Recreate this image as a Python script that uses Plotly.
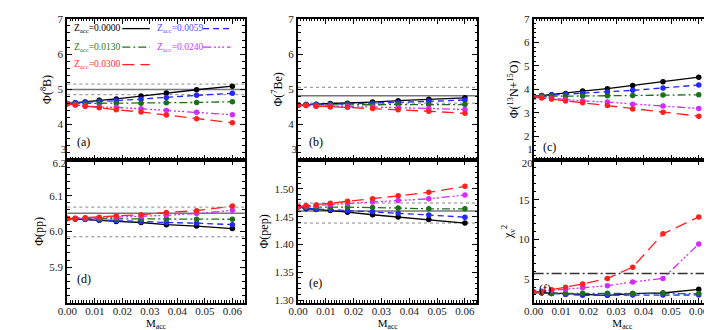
import plotly.graph_objects as go
from plotly.subplots import make_subplots

# accreted mass (x axis, same for every panel)
m_acc = [0.0, 0.0029, 0.0065, 0.0116, 0.0178, 0.0268, 0.036, 0.047, 0.06]

z_labels = ['0.0000', '0.0059', '0.0130', '0.0240', '0.0300']

# panel (a) phi(8B)
b8 = {
    '0.0000': [4.60, 4.62, 4.64, 4.69, 4.73, 4.81, 4.90, 4.99, 5.09],
    '0.0059': [4.60, 4.62, 4.64, 4.66, 4.68, 4.72, 4.77, 4.83, 4.89],
    '0.0130': [4.60, 4.60, 4.60, 4.61, 4.61, 4.61, 4.62, 4.63, 4.65],
    '0.0240': [4.59, 4.56, 4.53, 4.50, 4.49, 4.45, 4.40, 4.35, 4.28],
    '0.0300': [4.59, 4.56, 4.52, 4.48, 4.42, 4.36, 4.27, 4.17, 4.05],
}
# panel (b) phi(7Be)
be7 = {
    '0.0000': [4.55, 4.57, 4.58, 4.60, 4.61, 4.64, 4.68, 4.72, 4.76],
    '0.0059': [4.56, 4.57, 4.57, 4.58, 4.59, 4.61, 4.62, 4.66, 4.70],
    '0.0130': [4.56, 4.56, 4.56, 4.56, 4.56, 4.56, 4.57, 4.57, 4.57],
    '0.0240': [4.55, 4.54, 4.53, 4.52, 4.51, 4.50, 4.48, 4.46, 4.43],
    '0.0300': [4.55, 4.54, 4.52, 4.50, 4.49, 4.46, 4.42, 4.38, 4.32],
}
# panel (c) phi(13N+15O)
cno = {
    '0.0000': [3.70, 3.74, 3.77, 3.83, 3.93, 4.03, 4.17, 4.33, 4.52],
    '0.0059': [3.70, 3.73, 3.76, 3.79, 3.84, 3.89, 3.96, 4.06, 4.19],
    '0.0130': [3.70, 3.70, 3.71, 3.71, 3.72, 3.73, 3.74, 3.76, 3.77],
    '0.0240': [3.69, 3.66, 3.60, 3.56, 3.51, 3.46, 3.37, 3.29, 3.19],
    '0.0300': [3.67, 3.63, 3.59, 3.51, 3.43, 3.31, 3.17, 3.03, 2.86],
}
# panel (d) phi(pp)
pp = {
    '0.0000': [6.036, 6.035, 6.034, 6.031, 6.028, 6.025, 6.019, 6.015, 6.008],
    '0.0059': [6.036, 6.035, 6.034, 6.032, 6.030, 6.027, 6.025, 6.023, 6.019],
    '0.0130': [6.036, 6.036, 6.035, 6.035, 6.034, 6.034, 6.034, 6.034, 6.034],
    '0.0240': [6.036, 6.036, 6.037, 6.038, 6.040, 6.042, 6.045, 6.050, 6.059],
    '0.0300': [6.036, 6.037, 6.038, 6.040, 6.043, 6.047, 6.053, 6.058, 6.071],
}
# panel (e) phi(pep)
pep = {
    '0.0000': [1.468, 1.464, 1.463, 1.461, 1.458, 1.4534, 1.4494, 1.4448, 1.4385],
    '0.0059': [1.468, 1.465, 1.4635, 1.463, 1.461, 1.459, 1.456, 1.453, 1.449],
    '0.0130': [1.468, 1.4675, 1.4675, 1.467, 1.467, 1.4665, 1.4655, 1.464, 1.464],
    '0.0240': [1.468, 1.469, 1.470, 1.472, 1.4736, 1.4764, 1.479, 1.482, 1.489],
    '0.0300': [1.468, 1.4695, 1.471, 1.474, 1.4776, 1.482, 1.4874, 1.4937, 1.5046],
}
# panel (f) reduced chi^2
chi2 = {
    '0.0000': [3.33, 3.29, 3.17, 3.08, 3.04, 2.96, 3.17, 3.25, 3.71],
    '0.0059': [3.33, 3.29, 3.17, 3.08, 2.96, 2.96, 3.00, 3.00, 3.00],
    '0.0130': [3.33, 3.29, 3.21, 3.21, 3.21, 3.21, 3.17, 3.21, 3.17],
    '0.0240': [3.38, 3.46, 3.58, 3.71, 3.92, 4.17, 4.63, 5.08, 9.42],
    '0.0300': [3.38, 3.38, 3.67, 3.96, 4.38, 5.08, 6.50, 10.70, 12.83],
}

# y tick values per panel (the edge labels at the panel joins are kept apart)
ticks_a = [4, 5, 6, 7]
ticks_c = [2, 3, 4, 5, 6, 7]
ticks_d = [5.9, 6.0, 6.1]
ticks_e = [1.30, 1.35, 1.40, 1.45, 1.50]
ticks_f = [5, 10, 15]
# labels sitting on the join between the two rows: (panel, value, format)
join_ticks = [(1, 3, 'd'), (2, 3, 'd'), (3, 1, 'd'), (4, 6.2, '.1f'), (6, 20, 'd')]

# measured values: (central, upper, lower)
ref_a = [5.00, 5.15, 4.85]
ref_b = [4.82, 5.06, 4.61]
ref_d = [6.051, 6.068, 5.985]
ref_e = [1.46, 1.4745, 1.4385]
chi2_limit = 5.7

colors = {'0.0000': 'black', '0.0059': '#2626ff', '0.0130': '#1c701c',
          '0.0240': '#d22cff', '0.0300': '#ff2020'}
text_colors = {'0.0000': 'black', '0.0059': '#5a4cff', '0.0130': '#2a7a2a',
               '0.0240': '#c83cff', '0.0300': '#ff3030'}
dashes = {'0.0000': 'solid', '0.0059': '6px,4px', '0.0130': '8px,3px,2px,3px',
          '0.0240': '8px,3px,2px,2px,2px,2px,2px,3px', '0.0300': '12px,6px'}

FONT = 'Liberation Serif'


def labels(vals, fmt):
    return [format(v, fmt) for v in vals]


fig = make_subplots(rows=2, cols=3)

# row, col, data, y range, y title, tick values, tick format, minor step, tag, tag position
panels = [
    (1, 1, b8, [2.999, 7.001], 'Φ(<sup>8</sup>B)', ticks_a, 'd', 0.2, '(a)', (0.044, 0.124)),
    (1, 2, be7, [2.999, 7.001], 'Φ(<sup>7</sup>Be)', ticks_a, 'd', 0.2, '(b)', (0.05, 0.124)),
    (1, 3, cno, [0.999, 7.001], 'Φ(<sup>13</sup>N+<sup>15</sup>O)', ticks_c, 'd', 0.2, '(c)', (0.044, 0.09)),
    (2, 1, pp, [5.8, 6.2001], 'Φ(pp)', ticks_d, '.1f', 0.02, '(d)', (0.044, 0.17)),
    (2, 2, pep, [1.295, 1.552], 'Φ(pep)', ticks_e, '.2f', 0.01, '(e)', (0.05, 0.136)),
    (2, 3, chi2, [2, 20.01], 'χ<sub>ν</sub><sup>2</sup>', ticks_f, 'd', 1, '(f)', (0.02, 0.10)),
]

xdoms = [[50 / 712, 230 / 712], [284 / 712, 466 / 712], [523 / 712, 703 / 712]]
ydoms = [[1 - 150 / 330, 1 - 5 / 330], [1 - 297 / 330, 1 - 150 / 330]]
tickfont = dict(family=FONT, size=11, color='#222')

for i, (r, c, data, yr, ytitle, tv, tf, minor_dt, tag, tpos) in enumerate(panels):
    for z in z_labels:
        fig.add_trace(go.Scatter(
            x=m_acc, y=data[z], mode='lines+markers',
            line=dict(color=colors[z], width=1.3, dash=dashes[z]),
            marker=dict(color=colors[z], size=5.5),
            showlegend=False), row=r, col=c)
    n = i + 1
    xa = 'x' if n == 1 else f'x{n}'
    ya = 'y' if n == 1 else f'y{n}'
    fig.update_xaxes(
        domain=xdoms[c - 1], range=[0, 0.0645], dtick=0.01, tickformat='.2f',
        showticklabels=(r == 2), ticks='inside', ticklen=5, tickwidth=1,
        tickcolor='black', showline=True, linewidth=2, linecolor='black',
        mirror='ticks', showgrid=False, zeroline=False, ticklabeloverflow='allow',
        ticklabelstandoff=-3,
        minor=dict(dtick=0.001, ticks='inside', ticklen=2.5, tickcolor='black', showgrid=False),
        title=dict(text='M<sub>acc</sub>' if r == 2 else '', standoff=0,
                   font=dict(family=FONT, size=11)),
        tickfont=tickfont, row=r, col=c)
    fig.update_yaxes(
        domain=ydoms[r - 1], range=yr, ticks='inside', ticklen=5, tickwidth=1,
        tickcolor='black', showline=True, linewidth=2, linecolor='black',
        mirror='ticks', showgrid=False, zeroline=False, ticklabeloverflow='allow',
        tickvals=tv, ticktext=labels(tv, tf),
        minor=dict(dtick=minor_dt, ticks='inside', ticklen=2.5, tickcolor='black', showgrid=False),
        title=dict(text=ytitle, standoff=3, font=dict(family=FONT, size=12)),
        tickfont=tickfont, row=r, col=c)
    fig.add_annotation(text=tag, xref=f'{xa} domain', yref=f'{ya} domain',
                       x=tpos[0], y=tpos[1], xanchor='left', yanchor='middle',
                       showarrow=False, font=dict(family=FONT, size=12, color='black'))

# extra label-only axes for the labels on the join, nudged off the join line
for k, (n, v, tf) in enumerate(join_ticks):
    ya = 'y' if n == 1 else f'y{n}'
    xa = 'x' if n == 1 else f'x{n}'
    new = 7 + k
    upper = n <= 3
    fig.layout[f'yaxis{new}'] = dict(
        overlaying=ya, anchor=xa, side='left', range=panels[n - 1][3],
        tickvals=[v], ticktext=[format(v, tf)], ticks='', showline=False,
        showgrid=False, zeroline=False, ticklabeloverflow='allow',
        ticklabelposition='outside top' if upper else 'outside bottom',
        ticklabelshift=-3 if upper else -5,
        tickfont=tickfont)
    fig.add_trace(go.Scatter(x=[None], y=[None], xaxis=xa, yaxis=f'y{new}',
                             showlegend=False, hoverinfo='skip'))

# reference bands
for n, ref in [(1, ref_a), (2, ref_b), (4, ref_d), (5, ref_e)]:
    xa = 'x' if n == 1 else f'x{n}'
    ya = 'y' if n == 1 else f'y{n}'
    for k, v in enumerate(ref):
        fig.add_shape(type='line', xref=f'{xa} domain', yref=ya, x0=0, x1=1, y0=v, y1=v,
                      line=dict(color='#777' if k == 0 else '#888', width=1.5 if k == 0 else 1,
                                dash='solid' if k == 0 else 'dot'), layer='below')
fig.add_shape(type='line', xref='x6 domain', yref='y6', x0=0, x1=1, y0=chi2_limit, y1=chi2_limit,
              line=dict(color='#333', width=1.3, dash='10px,3px,2px,3px'), layer='below')

# legend drawn inside panel (a)
legend_pos = [(0.028, 0.31, 0.931), (0.494, 0.765, 0.931), (0.028, 0.31, 0.80),
              (0.494, 0.765, 0.80), (0.028, 0.31, 0.676)]
for z, (tx, lx, ly) in zip(z_labels, legend_pos):
    fig.add_annotation(text=f'Z<sub>acc</sub>={z}', xref='x domain', yref='y domain',
                       x=tx, y=ly, xanchor='left', yanchor='middle', showarrow=False,
                       font=dict(family=FONT, size=9.5, color=text_colors[z]))
    fig.add_shape(type='line', xref='x domain', yref='y domain', x0=lx, x1=lx + 0.155,
                  y0=ly, y1=ly, line=dict(color=colors[z], width=1.3, dash=dashes[z]))

fig.update_layout(
    width=712, height=330, margin=dict(l=0, r=0, t=0, b=0),
    plot_bgcolor='white', paper_bgcolor='white',
    font=dict(family=FONT, size=12, color='black'),
)

fig.write_html('out.html')
